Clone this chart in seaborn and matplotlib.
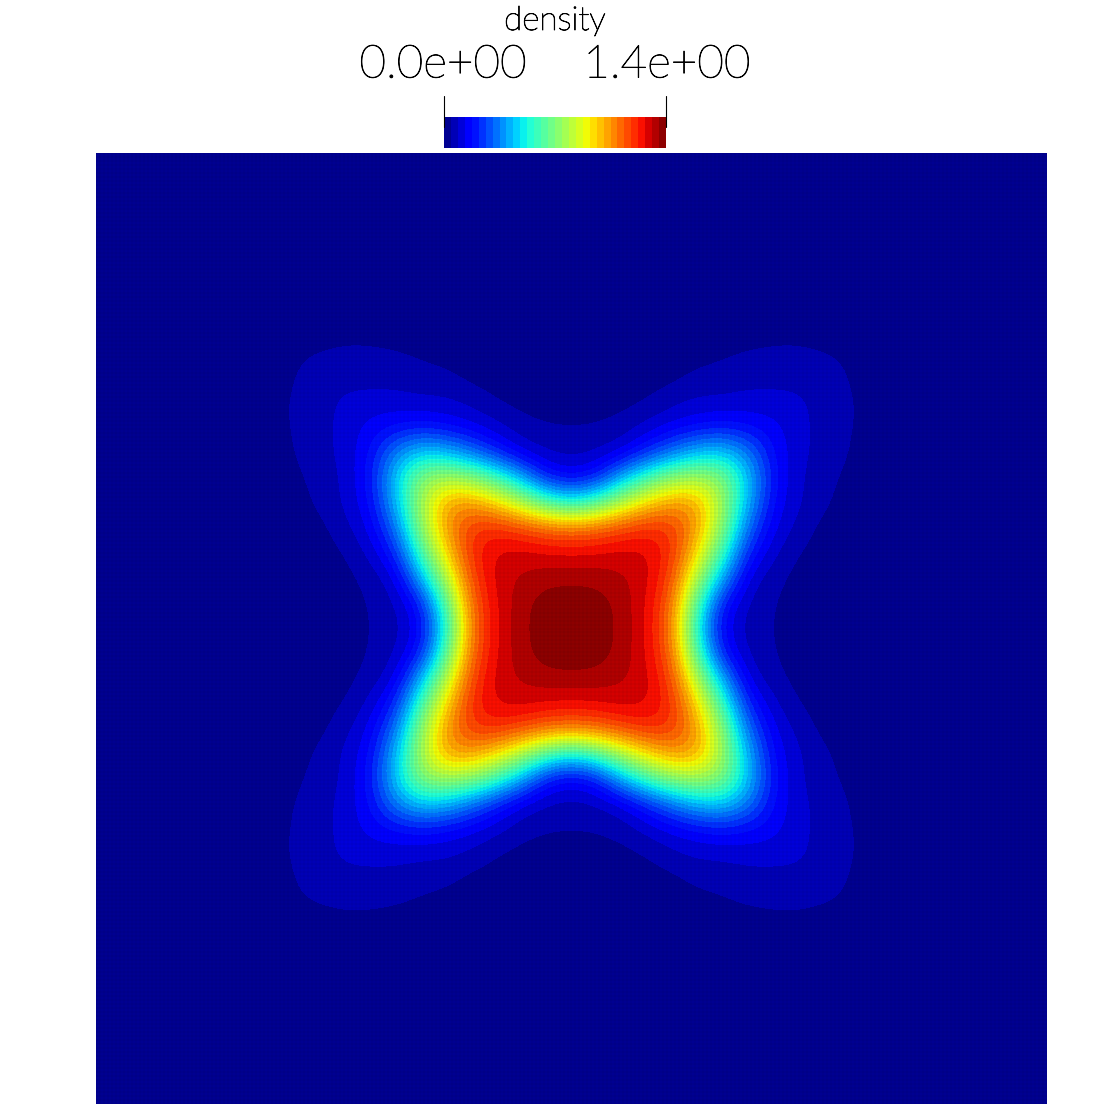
import numpy as np
import pandas as pd
import seaborn as sns
import matplotlib.pyplot as plt
from matplotlib.colors import ListedColormap
from matplotlib.patheffects import withStroke

# density read by eye on a 25 px grid, one quadrant from the centre outwards
quadrant = [
    [1.40, 1.39, 1.345, 1.27, 1.10, 0.53, 0.15, 0.070, 0.044, 0.025, 0.015, 0.010, 0.008],
    [1.39, 1.385, 1.34, 1.275, 1.12, 0.63, 0.20, 0.080, 0.045, 0.027, 0.016, 0.010, 0.008],
    [1.345, 1.34, 1.32, 1.29, 1.17, 0.80, 0.42, 0.120, 0.058, 0.030, 0.018, 0.012, 0.008],
    [1.27, 1.275, 1.29, 1.28, 1.21, 0.95, 0.60, 0.220, 0.100, 0.042, 0.025, 0.014, 0.009],
    [1.10, 1.12, 1.17, 1.21, 1.19, 1.04, 0.74, 0.330, 0.140, 0.075, 0.030, 0.016, 0.009],
    [0.53, 0.63, 0.80, 0.95, 1.04, 1.03, 0.78, 0.440, 0.170, 0.095, 0.055, 0.025, 0.012],
    [0.15, 0.20, 0.42, 0.60, 0.74, 0.78, 0.72, 0.470, 0.195, 0.095, 0.060, 0.036, 0.016],
    [0.070, 0.080, 0.120, 0.220, 0.330, 0.440, 0.470, 0.360, 0.175, 0.105, 0.070, 0.046, 0.022],
    [0.044, 0.045, 0.058, 0.100, 0.140, 0.170, 0.195, 0.175, 0.150, 0.105, 0.072, 0.048, 0.030],
    [0.025, 0.027, 0.030, 0.042, 0.075, 0.095, 0.095, 0.105, 0.105, 0.100, 0.072, 0.050, 0.030],
    [0.015, 0.016, 0.018, 0.025, 0.030, 0.055, 0.060, 0.070, 0.072, 0.072, 0.068, 0.046, 0.020],
    [0.010, 0.010, 0.012, 0.014, 0.016, 0.025, 0.036, 0.046, 0.048, 0.050, 0.046, 0.036, 0.016],
    [0.008, 0.008, 0.008, 0.009, 0.009, 0.012, 0.016, 0.022, 0.030, 0.030, 0.020, 0.016, 0.010],
]
background = 0.004
vmin, vmax = 0.0, 1.4
bands = 32
bar_label = 'density'
tick_labels = ['0.0e+00', '1.4e+00']

W = H = 1110


def px_axes(fig, x0, y0, x1, y1):
    return fig.add_axes([x0 / W, 1 - y1 / H, (x1 - x0) / W, (y1 - y0) / H])


if __name__ == "__main__":
    q = np.array(quadrant)
    half = np.vstack([q[:0:-1], q])
    field = np.hstack([half[:, :0:-1], half])
    field = np.pad(field, 7, constant_values=background)
    df = pd.DataFrame(field)

    sns.set_theme(style='white')
    plt.rcParams['font.family'] = ['Lato', 'DejaVu Sans']
    # band colours taken at the middle of each band
    cmap = ListedColormap(plt.get_cmap('jet')((np.arange(bands) + 0.5) / bands))

    fig = plt.figure(figsize=(W / 100, H / 100), dpi=100, facecolor='white')

    ax = px_axes(fig, 96, 153, 1047, 1104)
    sns.heatmap(df, ax=ax, cmap=cmap, vmin=vmin, vmax=vmax, cbar=False,
                xticklabels=False, yticklabels=False)
    # same grid again, smoothed by the renderer so the bands have round edges
    n = len(df)
    ax.imshow(df.values, cmap=cmap, vmin=vmin, vmax=vmax, aspect='auto',
              extent=(0, n, n, 0), interpolation='bicubic',
              interpolation_stage='data', zorder=2)
    ax.set_xlim(0.5, n - 0.5)
    ax.set_ylim(n - 0.5, 0.5)

    # mesh edges show as a fine dark speckle, every 4 px to avoid moire
    mesh = np.linspace(0.5, n - 0.5, 239)
    ax.vlines(mesh, 0.5, n - 0.5, color='black', linewidth=0.35, alpha=0.13, zorder=3)
    ax.hlines(mesh, 0.5, n - 0.5, color='black', linewidth=0.35, alpha=0.13, zorder=3)
    ax.axis('off')

    bar = px_axes(fig, 444, 117, 666, 148)
    ramp = pd.DataFrame([np.linspace(vmin, vmax, bands)])
    sns.heatmap(ramp, ax=bar, cmap=cmap, vmin=vmin, vmax=vmax, cbar=False,
                xticklabels=False, yticklabels=False)
    bar.axis('off')

    for x in (444, 666):
        fig.add_artist(plt.Line2D([x / W, x / W], [1 - 96 / H, 1 - 127 / H],
                                  color='black', linewidth=0.8))

    stroke = [withStroke(linewidth=0.6, foreground='black')]
    fig.text(555 / W, 1 - 21 / H, bar_label, ha='center', va='center',
             fontsize=24, color='black', fontweight='light', path_effects=stroke)
    fig.text(443 / W, 1 - 65 / H, tick_labels[0], ha='center', va='center',
             fontsize=33, color='black', fontweight='light', path_effects=stroke)
    fig.text(667 / W, 1 - 65 / H, tick_labels[1], ha='center', va='center',
             fontsize=33, color='black', fontweight='light', path_effects=stroke)

    plt.savefig('out.png', dpi=100)
